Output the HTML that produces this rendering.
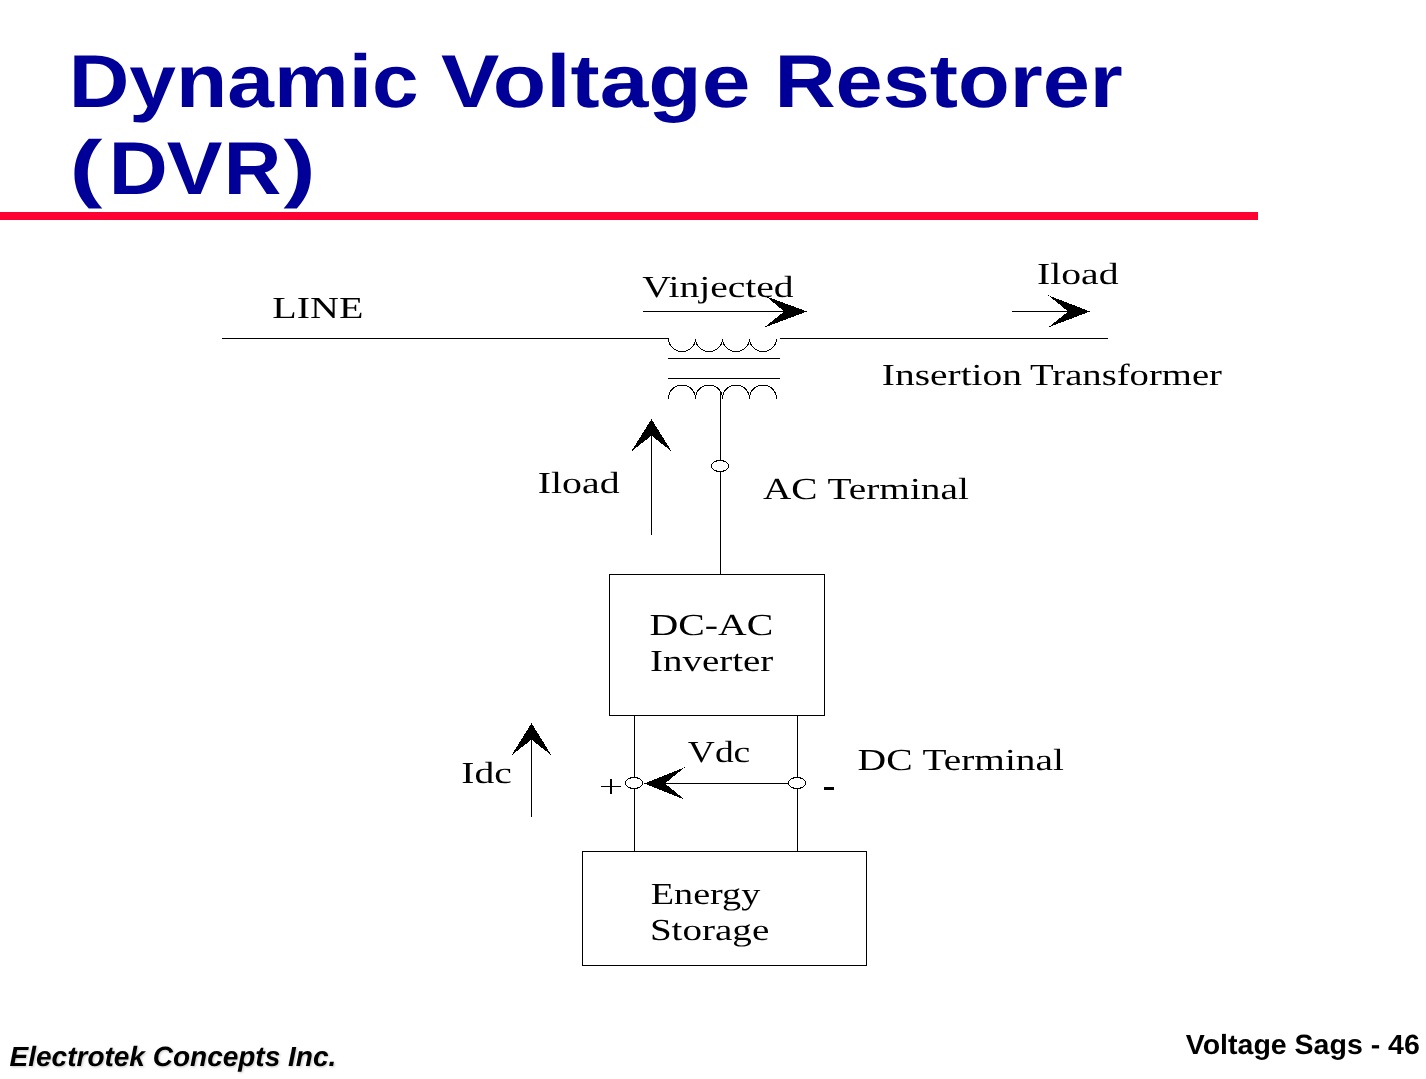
<!DOCTYPE html>
<html><head><meta charset="utf-8"><title>Dynamic Voltage Restorer (DVR)</title>
<style>
html,body{margin:0;padding:0;background:#fff;}
body{width:1426px;height:1079px;overflow:hidden;position:relative;}
svg{position:absolute;left:0;top:0;will-change:transform;}
.t{font-family:"Liberation Sans",sans-serif;font-weight:bold;fill:#000099;}
.s{font-family:"Liberation Serif",serif;font-size:30.5px;fill:#000;}
text{text-rendering:geometricPrecision;}
.f{font-family:"Liberation Sans",sans-serif;font-weight:bold;fill:#000;}
.sh{filter:drop-shadow(1.5px 1.5px 1px rgba(0,0,0,0.22));}
</style></head>
<body>
<svg width="1426" height="1079" viewBox="0 0 1426 1079">
<rect x="0" y="212" width="1258" height="8" fill="#FF0033"/>
<g stroke="#000" stroke-width="1" fill="none" shape-rendering="crispEdges">
<path d="M222 338.5H668.5M779.5 338.5H1107.5"/>
<path d="M668 358.5H780M668 378.5H780"/>
<path d="M720.5 392V574"/>
<rect x="609.5" y="574.5" width="215" height="141"/>
<path d="M634.5 715V851M797.5 715V851"/>
<rect x="582.5" y="851.5" width="284" height="114"/>
<path d="M643 311.5H786"/>
<path d="M1012 311.5H1069"/>
<path d="M651.5 535V434"/>
<path d="M663 783.5H789"/>
<path d="M531.5 817V738"/>
</g>
<g stroke="#000" stroke-width="1" fill="none" shape-rendering="crispEdges">
<path d="M668.5 338.5a13.5 13 0 0 0 27 0a13.5 13 0 0 0 27 0a13.5 13 0 0 0 27 0a13.5 13 0 0 0 27 0"/>
<path d="M668.5 398.5a13.5 13.5 0 0 1 27 0a13.5 13.5 0 0 1 27 0a13.5 13.5 0 0 1 27 0a13.5 13.5 0 0 1 27 0"/>
</g>
<g stroke="#000" stroke-width="1" fill="#fff" shape-rendering="crispEdges">
<ellipse cx="720" cy="466" rx="8.5" ry="5.5"/>
<ellipse cx="634" cy="783" rx="8.5" ry="5.5"/>
<ellipse cx="797" cy="783" rx="8.5" ry="5.5"/>
</g>
<g fill="#000" shape-rendering="crispEdges">
<path d="M807 311.5L766 296.3L784.2 311.5L764 327.7Z"/>
<path d="M1090 311.5L1048.2 295.3L1068.2 311.5L1048.2 327.4Z"/>
<path d="M651.5 419.1L631.2 451.6L651.5 435.6L671.7 451.6Z"/>
<path d="M644 783.5L684.8 767.3L664.9 783.5L684.8 799.6Z"/>
<path d="M531.5 723.1L511.4 755.5L531.5 739.6L551.6 755.5Z"/>
<rect x="824" y="787" width="10" height="3"/>
<rect x="601" y="786" width="20" height="1"/>
<rect x="610" y="779" width="2" height="15"/>
</g>
<text class="t" x="68.70" y="107.30" font-size="75" textLength="350.01" lengthAdjust="spacingAndGlyphs">Dynamic</text>
<text class="t" x="441.00" y="107.30" font-size="75" textLength="309.37" lengthAdjust="spacingAndGlyphs">Voltage</text>
<text class="t" x="774.40" y="107.30" font-size="75" textLength="348.37" lengthAdjust="spacingAndGlyphs">Restorer</text>
<text class="t" x="69.60" y="193.20" font-size="75" textLength="32.87" lengthAdjust="spacingAndGlyphs">(</text>
<text class="t" x="108.80" y="194.00" font-size="75" textLength="59.00" lengthAdjust="spacingAndGlyphs">D</text>
<text class="t" x="166.80" y="194.00" font-size="75" textLength="55.65" lengthAdjust="spacingAndGlyphs">V</text>
<text class="t" x="223.80" y="194.00" font-size="75" textLength="57.55" lengthAdjust="spacingAndGlyphs">R</text>
<text class="t" x="283.60" y="193.20" font-size="75" textLength="32.10" lengthAdjust="spacingAndGlyphs">)</text>
<text class="s" x="272.20" y="318.00" textLength="91.17" lengthAdjust="spacingAndGlyphs">LINE</text>
<text class="s" x="642.20" y="297.20" textLength="151.44" lengthAdjust="spacingAndGlyphs">Vinjected</text>
<text class="s" x="1037.00" y="284.20" textLength="81.53" lengthAdjust="spacingAndGlyphs">Iload</text>
<text class="s" x="881.80" y="385.00" textLength="140.21" lengthAdjust="spacingAndGlyphs">Insertion</text>
<text class="s" x="1030.00" y="385.00" textLength="192.00" lengthAdjust="spacingAndGlyphs">Transformer</text>
<text class="s" x="537.80" y="492.80" textLength="81.81" lengthAdjust="spacingAndGlyphs">Iload</text>
<text class="s" x="763.00" y="498.60" textLength="54.55" lengthAdjust="spacingAndGlyphs">AC</text>
<text class="s" x="827.60" y="498.60" textLength="141.20" lengthAdjust="spacingAndGlyphs">Terminal</text>
<text class="s" x="649.60" y="635.00" textLength="123.72" lengthAdjust="spacingAndGlyphs">DC-AC</text>
<text class="s" x="650.00" y="671.30" textLength="123.28" lengthAdjust="spacingAndGlyphs">Inverter</text>
<text class="s" x="687.80" y="762.40" textLength="62.49" lengthAdjust="spacingAndGlyphs">Vdc</text>
<text class="s" x="461.30" y="782.80" textLength="50.47" lengthAdjust="spacingAndGlyphs">Idc</text>
<text class="s" x="857.60" y="770.10" textLength="54.98" lengthAdjust="spacingAndGlyphs">DC</text>
<text class="s" x="922.60" y="770.10" textLength="141.22" lengthAdjust="spacingAndGlyphs">Terminal</text>
<text class="s" x="650.80" y="904.30" textLength="109.45" lengthAdjust="spacingAndGlyphs">Energy</text>
<text class="s" x="649.90" y="940.00" textLength="119.36" lengthAdjust="spacingAndGlyphs">Storage</text>
<text class="f sh" x="9.60" y="1065.90" font-size="27.8" textLength="326.65" lengthAdjust="spacingAndGlyphs" font-style="italic">Electrotek Concepts Inc.</text>
<text class="f" x="1185.80" y="1053.90" font-size="27.8" textLength="234.03" lengthAdjust="spacingAndGlyphs">Voltage Sags - 46</text>
</svg>
</body></html>
